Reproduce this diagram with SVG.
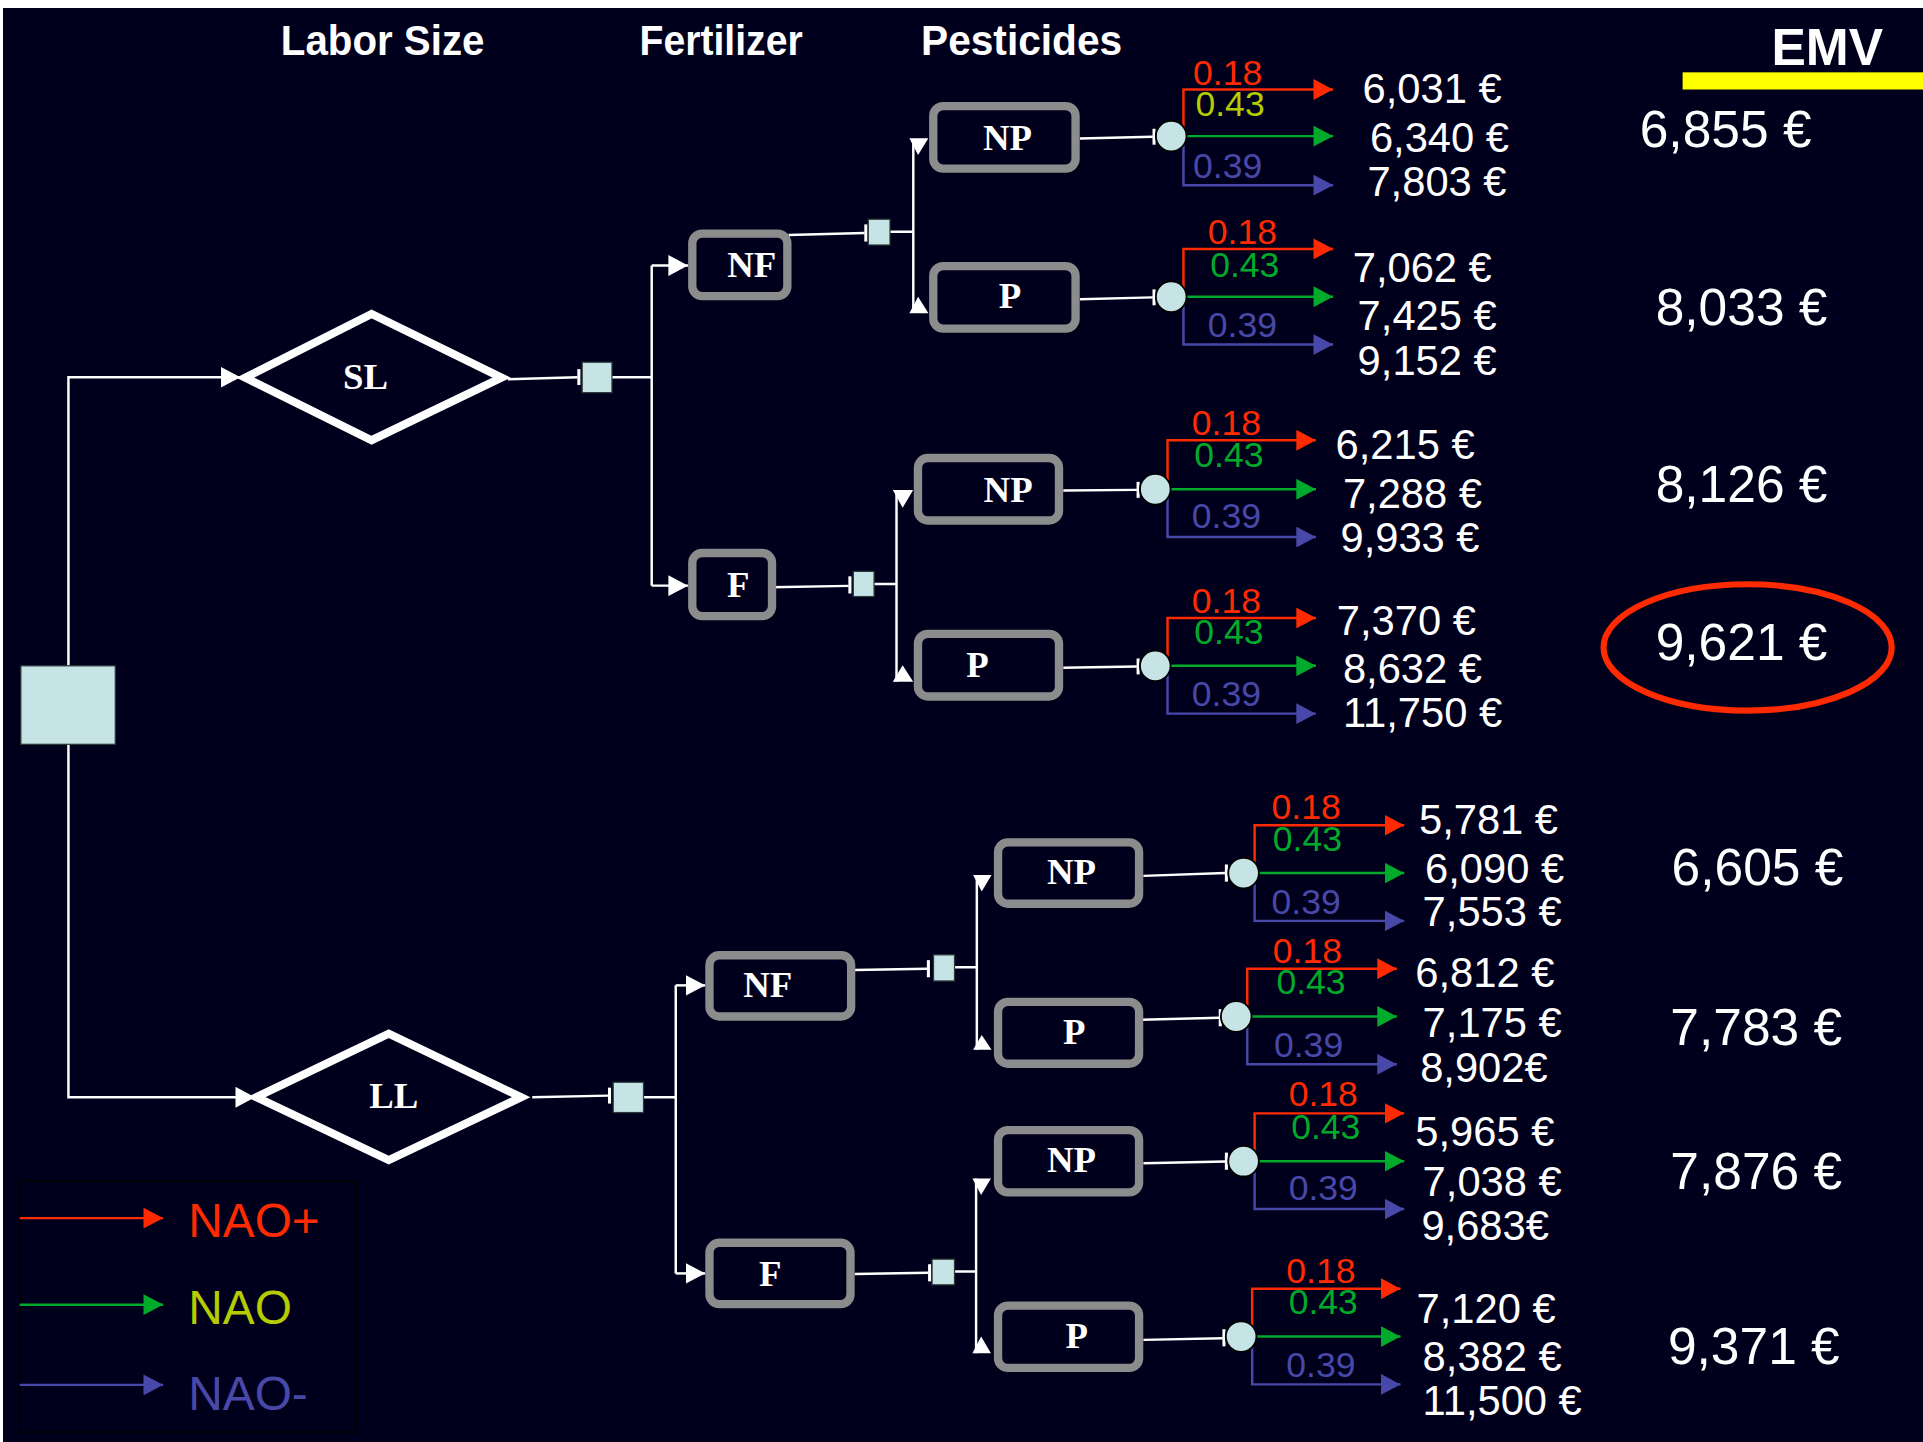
<svg xmlns="http://www.w3.org/2000/svg" width="1923" height="1442" viewBox="0 0 1923 1442">
<style>
.box{fill:none;stroke:#8c8c8c;stroke-width:6.8}
.dia{fill:none;stroke:#fff;stroke-width:6.5;stroke-linejoin:miter}
.sq{fill:#c6e4e6;stroke:#2a3a3a;stroke-width:1}
.ch{fill:#c6e4e6;stroke:#000;stroke-width:1.5}
.w{stroke:#fff;stroke-width:2;fill:none}
.tee{stroke:#fff;stroke-width:2.5}
.r{stroke:#ff2a00;stroke-width:2;fill:none}
.g{stroke:#00aa2a;stroke-width:2;fill:none}
.b{stroke:#4848a8;stroke-width:2;fill:none}
.nt{font-family:"Liberation Serif","Times New Roman",serif;font-weight:bold;font-size:30px;fill:#fff;text-anchor:middle}
.hd{font-family:"Liberation Sans",Arial,sans-serif;font-weight:bold;font-size:34px;fill:#fff;text-anchor:middle}
.val{font-family:"Liberation Sans",Arial,sans-serif;font-size:34px;fill:#fff}
.emv{font-family:"Liberation Sans",Arial,sans-serif;font-size:42px;fill:#fff}
.pl{font-family:"Liberation Sans",Arial,sans-serif;font-size:29px;text-anchor:middle}
.lg{font-family:"Liberation Sans",Arial,sans-serif;font-size:39px}
.pr{fill:#ff2a00}.pg{fill:#00aa2a}.py{fill:#b4cc00}.pb{fill:#4848a8}
.wa{fill:#fff}
</style>
<defs>
<marker id="aw" markerUnits="userSpaceOnUse" markerWidth="16" markerHeight="17" refX="16" refY="8.5" orient="auto"><path d="M0,0 L16,8.5 L0,17 z" fill="#fff"/></marker>
<marker id="ar" markerUnits="userSpaceOnUse" markerWidth="16" markerHeight="17" refX="16" refY="8.5" orient="auto"><path d="M0,0 L16,8.5 L0,17 z" fill="#ff2a00"/></marker>
<marker id="ag" markerUnits="userSpaceOnUse" markerWidth="16" markerHeight="17" refX="16" refY="8.5" orient="auto"><path d="M0,0 L16,8.5 L0,17 z" fill="#00aa2a"/></marker>
<marker id="ab" markerUnits="userSpaceOnUse" markerWidth="16" markerHeight="17" refX="16" refY="8.5" orient="auto"><path d="M0,0 L16,8.5 L0,17 z" fill="#4848a8"/></marker>
</defs>
<rect x="0" y="0" width="1923" height="1442" fill="#ffffff"/>
<rect x="3" y="8" width="1920" height="1434" fill="#00001c"/>
<g transform="scale(1.2264,1.2262)">
<g id="headers">
<text class="hd" x="312" y="45" textLength="166" lengthAdjust="spacingAndGlyphs">Labor Size</text>
<text class="hd" x="588" y="45" textLength="133" lengthAdjust="spacingAndGlyphs">Fertilizer</text>
<text class="hd" x="833" y="45" textLength="164" lengthAdjust="spacingAndGlyphs">Pesticides</text>
<text class="hd" x="1490" y="53" style="font-size:42px">EMV</text>
<rect x="1372" y="59" width="200" height="14" fill="#ffff00"/>
</g>
<g id="connectors">
<path class="w" d="M55.8,543 V307.7 H196" marker-end="url(#aw)"/>
<path class="w" d="M55.8,607 V894.8 H208" marker-end="url(#aw)"/>
<path class="w" d="M414,309.3 L471,307.7"/>
<line class="tee" x1="472" y1="301" x2="472" y2="314"/>
<path class="w" d="M499,307.7 H531.4 M531.4,216.5 V477.6"/>
<path class="w" d="M531.4,216.5 H561" marker-end="url(#aw)"/>
<path class="w" d="M531.4,477.6 H561" marker-end="url(#aw)"/>
<path class="w" d="M643,191.6 L705,190"/>
<line class="tee" x1="706" y1="183" x2="706" y2="197"/>
<path class="w" d="M725.7,189 H744.7 M744.7,114 V255"/>
<polygon class="wa" points="741.5,112.8 757,112.8 748.6,126.4"/>
<polygon class="wa" points="748.6,242 741.5,255.5 757,255.5"/>
<path class="w" d="M629,479 L692,477.8"/>
<line class="tee" x1="693" y1="470" x2="693" y2="484"/>
<path class="w" d="M712.7,476.2 H731 M731,400 V556"/>
<polygon class="wa" points="728,399.6 744.6,399.6 736,414"/>
<polygon class="wa" points="736,542.5 728,556 744.6,556"/>
<path class="w" d="M880.6,113 L940,111.5 M880.6,244 L940,242.5 M867,400 L927,399.5 M867,544.5 L927,543.5"/>
<line class="tee" x1="941" y1="105" x2="941" y2="118"/>
<line class="tee" x1="941" y1="236" x2="941" y2="249"/>
<line class="tee" x1="928" y1="393" x2="928" y2="406"/>
<line class="tee" x1="928" y1="537" x2="928" y2="550"/>
<path class="w" d="M434,894.8 L496,893.5"/>
<line class="tee" x1="497" y1="887" x2="497" y2="900"/>
<path class="w" d="M524.7,894.8 H551 M551,803.6 V1038.5"/>
<path class="w" d="M551,803.6 H575" marker-end="url(#aw)"/>
<path class="w" d="M551,1038.5 H575" marker-end="url(#aw)"/>
<path class="w" d="M697,791 L756,790"/>
<line class="tee" x1="757" y1="783" x2="757" y2="797"/>
<path class="w" d="M778.3,788.8 H796.5 M796.5,714 V856"/>
<polygon class="wa" points="793.5,713.5 808.5,713.5 800.5,727"/>
<polygon class="wa" points="800.5,844 793.5,856 808.5,856"/>
<path class="w" d="M697,1039 L757,1038"/>
<line class="tee" x1="758" y1="1031" x2="758" y2="1045"/>
<path class="w" d="M778.3,1037 H795.9 M795.9,961 V1103.7"/>
<polygon class="wa" points="792.9,961 808,961 800,974.5"/>
<polygon class="wa" points="800,1090 792.9,1103.7 808,1103.7"/>
<path class="w" d="M932.3,714.3 L999,712 M930.4,831.7 L994,830 M932.3,948.6 L999,947.3 M932.3,1092.7 L997,1091.3"/>
<line class="tee" x1="1000" y1="705" x2="1000" y2="719"/>
<line class="tee" x1="995" y1="823" x2="995" y2="837"/>
<line class="tee" x1="1000" y1="940" x2="1000" y2="954"/>
<line class="tee" x1="998" y1="1084" x2="998" y2="1098"/>
<path class="r" d="M965,111 V73 H1087" marker-end="url(#ar)"/><path class="g" d="M955,111 H1087" marker-end="url(#ag)"/><path class="b" d="M965,111 V151 H1087" marker-end="url(#ab)"/>
<path class="r" d="M965,242 V203 H1087" marker-end="url(#ar)"/><path class="g" d="M955,242 H1087" marker-end="url(#ag)"/><path class="b" d="M965,242 V281 H1087" marker-end="url(#ab)"/>
<path class="r" d="M952,399 V359 H1073" marker-end="url(#ar)"/><path class="g" d="M942,399 H1073" marker-end="url(#ag)"/><path class="b" d="M952,399 V438 H1073" marker-end="url(#ab)"/>
<path class="r" d="M952,543 V504 H1073" marker-end="url(#ar)"/><path class="g" d="M942,543 H1073" marker-end="url(#ag)"/><path class="b" d="M952,543 V582 H1073" marker-end="url(#ab)"/>
<path class="r" d="M1023,712 V673 H1145" marker-end="url(#ar)"/><path class="g" d="M1014,712 H1145" marker-end="url(#ag)"/><path class="b" d="M1023,712 V751 H1145" marker-end="url(#ab)"/>
<path class="r" d="M1017,829 V790 H1139" marker-end="url(#ar)"/><path class="g" d="M1008,829 H1139" marker-end="url(#ag)"/><path class="b" d="M1017,829 V868 H1139" marker-end="url(#ab)"/>
<path class="r" d="M1023,947 V908 H1145" marker-end="url(#ar)"/><path class="g" d="M1014,947 H1145" marker-end="url(#ag)"/><path class="b" d="M1023,947 V986 H1145" marker-end="url(#ab)"/>
<path class="r" d="M1021,1090 V1051 H1142" marker-end="url(#ar)"/><path class="g" d="M1012,1090 H1142" marker-end="url(#ag)"/><path class="b" d="M1021,1090 V1129 H1142" marker-end="url(#ab)"/>
</g>
<g id="root"><rect class="sq" x="17" y="543" width="77" height="64"/></g>
<g id="SL"><polygon class="dia" points="200,308 303,256 409,308 303,359"/><text class="nt" x="298" y="317">SL</text></g>
<g id="LL"><polygon class="dia" points="209,894.8 317,843 425,894.8 317,946"/><text class="nt" x="321" y="904">LL</text></g>
<g id="SL-dec"><rect class="sq" x="474.7" y="295.4" width="24.3" height="24.8"/></g>
<g id="LL-dec"><rect class="sq" x="500" y="882.6" width="24.7" height="24.7"/></g>
<g id="SL-NF"><rect class="box" x="564.5" y="190.5" width="77.5" height="51" rx="8"/><text class="nt" x="613" y="226">NF</text></g>
<g id="SL-F"><rect class="box" x="564.5" y="451" width="65" height="51.5" rx="8"/><text class="nt" x="602" y="487">F</text></g>
<g id="SL-NF-dec"><rect class="sq" x="708" y="178.8" width="17.7" height="21"/></g>
<g id="SL-F-dec"><rect class="sq" x="695.8" y="466" width="16.9" height="20.5"/></g>
<g id="SL-NF-NP"><rect class="box" x="761" y="86.5" width="116" height="51" rx="8"/><text class="nt" x="821.5" y="122">NP</text></g>
<g id="SL-NF-P"><rect class="box" x="761" y="217" width="116" height="51" rx="8"/><text class="nt" x="823.5" y="251.5">P</text></g>
<g id="SL-F-NP"><rect class="box" x="748.5" y="373.5" width="115" height="51" rx="8"/><text class="nt" x="822" y="409">NP</text></g>
<g id="SL-F-P"><rect class="box" x="748.5" y="517" width="115" height="51" rx="8"/><text class="nt" x="797" y="552">P</text></g>
<g id="LL-NF"><rect class="box" x="578.5" y="779" width="115.5" height="50" rx="8"/><text class="nt" x="626" y="813">NF</text></g>
<g id="LL-F"><rect class="box" x="578.5" y="1013.5" width="115" height="50" rx="8"/><text class="nt" x="628" y="1049">F</text></g>
<g id="LL-NF-dec"><rect class="sq" x="761.2" y="778.7" width="17.1" height="21.3"/></g>
<g id="LL-F-dec"><rect class="sq" x="760" y="1026.9" width="18.3" height="20.9"/></g>
<g id="LL-NF-NP"><rect class="box" x="813.8" y="687" width="115" height="50" rx="8"/><text class="nt" x="873.7" y="721">NP</text></g>
<g id="LL-NF-P"><rect class="box" x="813.8" y="817" width="115" height="50.5" rx="8"/><text class="nt" x="876" y="851.5">P</text></g>
<g id="LL-F-NP"><rect class="box" x="813.8" y="921.6" width="115" height="50.8" rx="8"/><text class="nt" x="873.7" y="956">NP</text></g>
<g id="LL-F-P"><rect class="box" x="813.8" y="1064.8" width="115" height="50.8" rx="8"/><text class="nt" x="878" y="1099.5">P</text></g>
<g id="chance-A"><circle class="ch" cx="955" cy="111" r="12.5"/>
<text class="pl pr" x="1001" y="69">0.18</text><text class="pl py" x="1003" y="95">0.43</text><text class="pl pb" x="1001" y="145">0.39</text>
<text class="val" x="1111" y="84">6,031 €</text><text class="val" x="1117" y="124">6,340 €</text><text class="val" x="1115" y="160">7,803 €</text></g>
<g id="chance-B"><circle class="ch" cx="955" cy="242" r="12.5"/>
<text class="pl pr" x="1013" y="199">0.18</text><text class="pl pg" x="1015" y="226">0.43</text><text class="pl pb" x="1013" y="275">0.39</text>
<text class="val" x="1103" y="230">7,062 €</text><text class="val" x="1107" y="269">7,425 €</text><text class="val" x="1107" y="306">9,152 €</text></g>
<g id="chance-C"><circle class="ch" cx="942" cy="399" r="12.5"/>
<text class="pl pr" x="1000" y="355">0.18</text><text class="pl pg" x="1002" y="381">0.43</text><text class="pl pb" x="1000" y="431">0.39</text>
<text class="val" x="1089" y="374">6,215 €</text><text class="val" x="1095" y="414">7,288 €</text><text class="val" x="1093" y="450">9,933 €</text></g>
<g id="chance-D"><circle class="ch" cx="942" cy="543" r="12.5"/>
<text class="pl pr" x="1000" y="500">0.18</text><text class="pl pg" x="1002" y="525">0.43</text><text class="pl pb" x="1000" y="576">0.39</text>
<text class="val" x="1090" y="518">7,370 €</text><text class="val" x="1095" y="557">8,632 €</text><text class="val" x="1095" y="593">11,750 €</text></g>
<g id="chance-E"><circle class="ch" cx="1014" cy="712" r="12.5"/>
<text class="pl pr" x="1065" y="668">0.18</text><text class="pl pg" x="1066" y="694">0.43</text><text class="pl pb" x="1065" y="745">0.39</text>
<text class="val" x="1157" y="680">5,781 €</text><text class="val" x="1162" y="720">6,090 €</text><text class="val" x="1160" y="755">7,553 €</text></g>
<g id="chance-F"><circle class="ch" cx="1008" cy="829" r="12.5"/>
<text class="pl pr" x="1066" y="785">0.18</text><text class="pl pg" x="1069" y="811">0.43</text><text class="pl pb" x="1067" y="862">0.39</text>
<text class="val" x="1154" y="805">6,812 €</text><text class="val" x="1160" y="846">7,175 €</text><text class="val" x="1158" y="882">8,902€</text></g>
<g id="chance-G"><circle class="ch" cx="1014" cy="947" r="12.5"/>
<text class="pl pr" x="1079" y="902">0.18</text><text class="pl pg" x="1081" y="929">0.43</text><text class="pl pb" x="1079" y="979">0.39</text>
<text class="val" x="1154" y="935">5,965 €</text><text class="val" x="1160" y="975">7,038 €</text><text class="val" x="1159" y="1011">9,683€</text></g>
<g id="chance-H"><circle class="ch" cx="1012" cy="1090" r="12.5"/>
<text class="pl pr" x="1077" y="1046">0.18</text><text class="pl pg" x="1079" y="1072">0.43</text><text class="pl pb" x="1077" y="1123">0.39</text>
<text class="val" x="1155" y="1079">7,120 €</text><text class="val" x="1160" y="1118">8,382 €</text><text class="val" x="1160" y="1154">11,500 €</text></g>
<g id="emv">
<text class="emv" x="1337" y="120">6,855 €</text>
<text class="emv" x="1350" y="265">8,033 €</text>
<text class="emv" x="1350" y="409">8,126 €</text>
<text class="emv" x="1350" y="538">9,621 €</text>
<text class="emv" x="1363" y="722">6,605 €</text>
<text class="emv" x="1362" y="852">7,783 €</text>
<text class="emv" x="1362" y="970">7,876 €</text>
<text class="emv" x="1360" y="1112">9,371 €</text>
<ellipse cx="1425" cy="528" rx="117.5" ry="51.5" fill="none" stroke="#ff2a00" stroke-width="5"/>
</g>
<g id="legend">
<rect x="16.3" y="963" width="274.5" height="205" fill="none" stroke="#000" stroke-width="1.5"/>
<path class="r" d="M16,993.4 H133" marker-end="url(#ar)"/>
<path class="g" d="M16,1064 H133" marker-end="url(#ag)"/>
<path class="b" d="M16,1129.4 H133" marker-end="url(#ab)"/>
<text class="lg pr" x="153.5" y="1009">NAO+</text>
<text class="lg py" x="153.5" y="1080">NAO</text>
<text class="lg pb" x="153.5" y="1150">NAO-</text>
</g>
</g>
</svg>
